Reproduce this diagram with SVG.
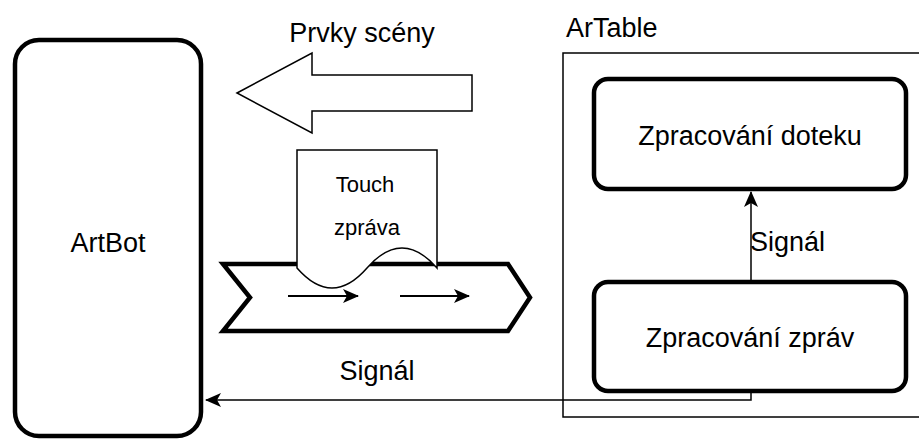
<svg xmlns="http://www.w3.org/2000/svg" width="919" height="440" viewBox="0 0 919 440">
<defs>
<style>
.t{font-family:"Liberation Sans",Arial,sans-serif;fill:#000}
.big{font-size:27px}
.sm{font-size:22px}
.thick{fill:#fff;stroke:#000;stroke-width:4.5}
.thin{fill:#fff;stroke:#000;stroke-width:1.5}
.edge{fill:none;stroke:#000;stroke-width:1.5}
.inner{fill:none;stroke:#000;stroke-width:2}
</style>
<marker id="ah" viewBox="0 0 16 14" refX="15" refY="7" markerWidth="16" markerHeight="14" markerUnits="userSpaceOnUse" orient="auto">
<path d="M0,0 L16,7 L0,14 L4,7 Z" fill="#000"/>
</marker>
</defs>
<rect width="919" height="440" fill="#fff"/>

<g id="artable">
<rect x="563" y="53" width="362" height="364" fill="#fff" stroke="#000" stroke-width="1.5"/>
<text class="t big" x="566" y="37">ArTable</text>
</g>

<g id="artbot">
<rect class="thick" x="15" y="40" width="186" height="396" rx="24"/>
<text class="t big" x="108" y="252" text-anchor="middle">ArtBot</text>
</g>

<g id="prvky">
<polygon class="thin" points="237,93 312,53 312,75 472,75 472,111 312,111 312,133"/>
<text class="t big" x="362" y="42" text-anchor="middle">Prvky scény</text>
</g>

<g id="channel">
<polygon class="thick" points="223,264 508,264 530,297.5 508,331 223,331 250,297.5"/>
<line class="inner" x1="288" y1="296" x2="358" y2="296" marker-end="url(#ah)"/>
<line class="inner" x1="400" y1="296" x2="469" y2="296" marker-end="url(#ah)"/>
</g>

<g id="touch">
<path class="thin" d="M297,150 H437 V268 Q402,228 367,268 Q332,308 297,268 Z"/>
<text class="t sm" x="365" y="192" text-anchor="middle">Touch</text>
<text class="t sm" x="367" y="235" text-anchor="middle">zpráva</text>
</g>

<g id="doteku">
<rect class="thick" x="594" y="79" width="312" height="110" rx="14"/>
<text class="t big" x="750" y="145" text-anchor="middle">Zpracování doteku</text>
</g>

<g id="zprav">
<rect class="thick" x="594" y="282" width="312" height="109" rx="14"/>
<text class="t big" x="750" y="347" text-anchor="middle">Zpracování zpráv</text>
</g>

<g id="connectors">
<line class="edge" x1="751" y1="280" x2="751" y2="192" marker-end="url(#ah)"/>
<text class="t big" x="750" y="251">Signál</text>
<polyline class="edge" points="751,393 751,400 206,400" marker-end="url(#ah)"/>
<text class="t big" x="377" y="380" text-anchor="middle">Signál</text>
</g>
</svg>
